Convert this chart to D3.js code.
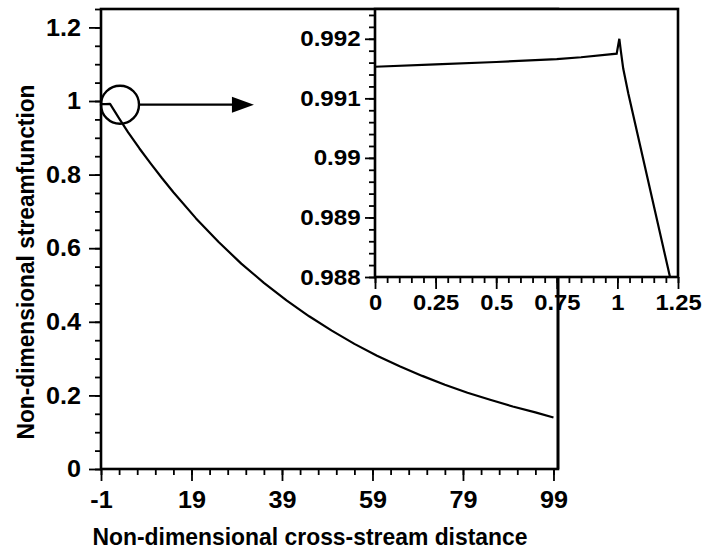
<!DOCTYPE html>
<html>
<head>
<meta charset="utf-8">
<script src="https://cdn.jsdelivr.net/npm/d3@7"></script>
<style>
  body { margin: 0; background: #fff; }
  svg { display: block; }
  text { font-family: "Liberation Sans", Arial, sans-serif; font-weight: bold; fill: #000; }
</style>
</head>
<body>
<div id="chart"></div>
<script>
// main curve
var crossDist = [-1, 0, 1, 3, 5, 7.5, 10, 12.5, 15, 20, 25, 30, 35, 40, 45, 50, 55, 60, 65, 70, 75, 80, 85, 90, 95, 99];
var streamFn = [0.9915, 0.9917, 0.992, 0.953, 0.915, 0.871, 0.830, 0.790, 0.752, 0.681, 0.617, 0.558, 0.506, 0.458, 0.415,
                0.376, 0.340, 0.308, 0.279, 0.253, 0.229, 0.207, 0.188, 0.170, 0.154, 0.140];

// zoomed inset curve
var insetDist = [0, 0.25, 0.5, 0.75, 0.85, 0.997, 1.008, 1.014, 1.024, 1.045, 1.217];
var insetFn = [0.99153, 0.99157, 0.99161, 0.99166, 0.99169, 0.99175, 0.99200, 0.99180, 0.99150, 0.99108, 0.98800];

// ticks
var xTicks = [-1, 19, 39, 59, 79, 99];
var yTicks = [0, 0.2, 0.4, 0.6, 0.8, 1, 1.2];
var insetXTicks = [0, 0.25, 0.5, 0.75, 1, 1.25];
var insetYTicks = [0.988, 0.989, 0.99, 0.991, 0.992];

var W = 706, H = 552;
var svg = d3.select("#chart").append("svg").attr("width", W).attr("height", H);

var x = d3.scaleLinear().domain([-1, 100]).range([101, 558]);
var y = d3.scaleLinear().domain([0, 1.25]).range([469, 9]);

var xi = d3.scaleLinear().domain([0, 1.25]).range([375, 678]);
var yi = d3.scaleLinear().domain([0.988, 0.9925]).range([277, 9]);

function styleTicks(g, fs, stretch) {
  g.select(".domain").remove();
  g.selectAll(".tick line").attr("stroke", "#000").attr("stroke-width", 1.8);
  g.selectAll(".tick text")
    .attr("font-size", fs)
    .attr("transform", "scale(" + (stretch || 1) + ",1)");
}

// minor ticks helper
function minor(axis, vals, size) {
  return axis.tickValues(vals).tickSize(size).tickFormat("");
}

// ---- main plot ----
var xMinor = d3.range(-1, 100, 4);
var yMinor = d3.range(0, 1.26, 0.05);

svg.append("g").attr("transform", "translate(0,469)")
  .call(minor(d3.axisBottom(x), xMinor, 6)).call(styleTicks, 24);
svg.append("g").attr("transform", "translate(101,0)")
  .call(minor(d3.axisLeft(y), yMinor, 6)).call(styleTicks, 24);

svg.append("g").attr("transform", "translate(0,469)")
  .call(d3.axisBottom(x).tickValues(xTicks).tickSize(12).tickPadding(10).tickFormat(d => String(d)))
  .call(styleTicks, 24, 1.05);
svg.append("g").attr("transform", "translate(101,0)")
  .call(d3.axisLeft(y).tickValues(yTicks).tickSize(12).tickPadding(7).tickFormat(d => String(d)))
  .call(styleTicks, 24, 1.05);

svg.append("rect")
  .attr("x", x(-1)).attr("y", y(1.25))
  .attr("width", x(100) - x(-1)).attr("height", y(0) - y(1.25))
  .attr("fill", "none").attr("stroke", "#000").attr("stroke-width", 2.6);

var line = d3.line().x((d, i) => x(crossDist[i])).y(d => y(d));
svg.append("path").datum(streamFn)
  .attr("d", line).attr("fill", "none").attr("stroke", "#000").attr("stroke-width", 2.2)
  .attr("stroke-linejoin", "round");

// circle + arrow
var cx = x(3.2), cy = y(0.99), r = 19;
svg.append("circle").attr("cx", cx).attr("cy", cy).attr("r", r)
  .attr("fill", "none").attr("stroke", "#000").attr("stroke-width", 2.4);
var tip = x(32.8);
svg.append("line").attr("x1", cx + r).attr("y1", cy).attr("x2", tip - 18).attr("y2", cy)
  .attr("stroke", "#000").attr("stroke-width", 2.2);
svg.append("path")
  .attr("d", "M" + (tip - 22) + "," + (cy - 8) + "L" + tip + "," + cy + "L" + (tip - 22) + "," + (cy + 8) + "Z")
  .attr("fill", "#000");

// titles
svg.append("text")
  .attr("x", 310).attr("y", 545)
  .attr("text-anchor", "middle").attr("font-size", 24)
  .attr("textLength", 435).attr("lengthAdjust", "spacingAndGlyphs")
  .text("Non-dimensional cross-stream distance");
svg.append("text")
  .attr("transform", "translate(34,262) rotate(-90)")
  .attr("text-anchor", "middle").attr("font-size", 24)
  .attr("textLength", 355).attr("lengthAdjust", "spacingAndGlyphs")
  .text("Non-dimensional streamfunction");

// ---- inset ----
svg.append("rect")
  .attr("x", xi(0)).attr("y", yi(0.9925))
  .attr("width", xi(1.25) - xi(0)).attr("height", yi(0.988) - yi(0.9925))
  .attr("fill", "#fff");

var xiMinor = d3.range(0, 1.26, 0.05);
var yiMinor = d3.range(0.988, 0.99251, 0.0002);

svg.append("g").attr("transform", "translate(0,277)")
  .call(minor(d3.axisBottom(xi), xiMinor, 6)).call(styleTicks, 22);
svg.append("g").attr("transform", "translate(375,0)")
  .call(minor(d3.axisLeft(yi), yiMinor, 6)).call(styleTicks, 22);

svg.append("g").attr("transform", "translate(0,277)")
  .call(d3.axisBottom(xi).tickValues(insetXTicks).tickSize(12).tickPadding(5).tickFormat(d => String(d)))
  .call(styleTicks, 22, 1.08);
svg.append("g").attr("transform", "translate(375,0)")
  .call(d3.axisLeft(yi).tickValues(insetYTicks).tickSize(10).tickPadding(3).tickFormat(d => String(d)))
  .call(styleTicks, 22, 1.1);

svg.append("rect")
  .attr("x", xi(0)).attr("y", yi(0.9925))
  .attr("width", xi(1.25) - xi(0)).attr("height", yi(0.988) - yi(0.9925))
  .attr("fill", "none").attr("stroke", "#000").attr("stroke-width", 2.6);

svg.append("clipPath").attr("id", "insetClip").append("rect")
  .attr("x", xi(0)).attr("y", yi(0.9925))
  .attr("width", xi(1.25) - xi(0)).attr("height", yi(0.988) - yi(0.9925));

var insetLine = d3.line().x((d, i) => xi(insetDist[i])).y(d => yi(d));
svg.append("path").datum(insetFn)
  .attr("clip-path", "url(#insetClip)")
  .attr("d", insetLine).attr("fill", "none").attr("stroke", "#000").attr("stroke-width", 2.2);

// main right border passes through the inset tick labels
svg.append("line").attr("x1", x(100)).attr("x2", x(100)).attr("y1", 277).attr("y2", 469)
  .attr("stroke", "#000").attr("stroke-width", 2.6);
</script>
</body>
</html>
